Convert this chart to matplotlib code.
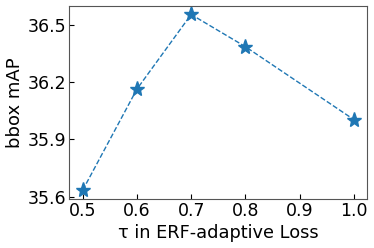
import matplotlib
matplotlib.use("Agg")
import matplotlib.pyplot as plt

tau = [0.5, 0.6, 0.7, 0.8, 1.0]
bbox_map = [35.635, 36.163, 36.553, 36.385, 36.004]
xticks = [0.5, 0.6, 0.7, 0.8, 0.9, 1.0]
yticks = [35.6, 35.9, 36.2, 36.5]

fig, ax = plt.subplots(figsize=(3.74, 2.48), dpi=100)
ax.plot(tau, bbox_map, "--", color="#1f77b4", lw=1.0, marker="*", ms=11)
ax.set_xticks(xticks)
ax.set_yticks(yticks)
ax.set_xticklabels([f"{v:.1f}" for v in xticks])
ax.set_yticklabels([f"{v:.1f}" for v in yticks])
ax.tick_params(direction="in", labelsize=12.5, pad=2)
for s in ax.spines.values():
    s.set_color("#555555")
ax.set_xlabel("τ in ERF-adaptive Loss", fontsize=12.8, labelpad=3)
ax.set_ylabel("bbox mAP", fontsize=13, labelpad=3)
fig.subplots_adjust(left=0.185, right=0.982, top=0.977, bottom=0.198)
fig.savefig("out.png", dpi=100)
